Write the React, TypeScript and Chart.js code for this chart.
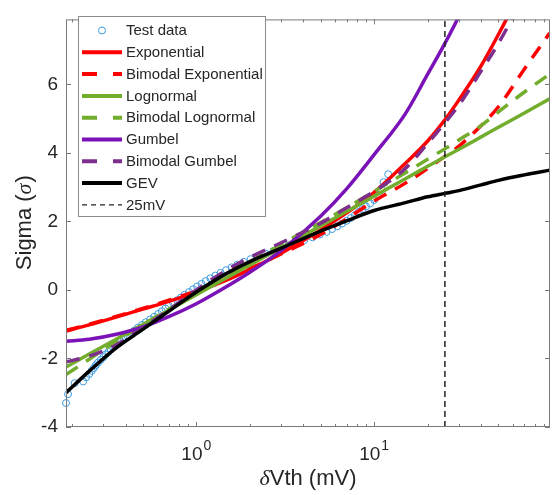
import React, { useEffect, useRef } from 'react';
import { Chart, registerables } from 'chart.js';

Chart.register(...registerables);

// ---- data ----
const fitX = [0.185, 0.25, 0.35, 0.5, 0.7, 1, 1.5, 2, 3, 5, 7, 10, 15, 20, 25, 30, 40, 50, 70, 97];

const exponentialY = [-1.2, -1.02, -0.8, -0.56, -0.33, -0.06, 0.3, 0.6, 1.07, 1.75, 2.25, 2.85, 3.7, 4.35, 4.97, 5.55, 6.55, 7.46, 8.92, null];
const bimodalExponentialY = [-1.18, -1.0, -0.78, -0.54, -0.3, -0.03, 0.32, 0.62, 1.05, 1.62, 2.08, 2.6, 3.12, 3.55, 3.9, 4.2, 4.8, 5.35, 6.45, 7.5];
const lognormalY = [-2.25, -1.87, -1.45, -1.01, -0.59, -0.14, 0.37, 0.73, 1.23, 1.87, 2.29, 2.74, 3.25, 3.61, 3.89, 4.11, 4.47, 4.75, 5.17, 5.58];
const bimodalLognormalY = [-2.47, -2.02, -1.52, -1.02, -0.56, -0.08, 0.45, 0.82, 1.33, 1.97, 2.4, 2.88, 3.42, 3.82, 4.12, 4.38, 4.8, 5.2, 5.78, 6.3];
const gumbelY = [-1.5, -1.44, -1.3, -1.08, -0.78, -0.4, 0.12, 0.52, 1.15, 2.15, 2.95, 3.95, 5.15, 6.3, 7.2, 8.0, 9.5, null, null, null];
const bimodalGumbelY = [-2.1, -1.93, -1.62, -1.1, -0.58, 0.0, 0.6, 0.95, 1.38, 1.95, 2.4, 2.88, 3.55, 4.28, 4.88, 5.4, 6.4, 7.2, 8.6, null];
const gevY = [-3.0, -2.37, -1.71, -1.15, -0.62, -0.06, 0.5, 0.83, 1.22, 1.72, 2.02, 2.32, 2.55, 2.72, 2.82, 2.9, 3.07, 3.2, 3.36, 3.5];

const testX = [0.185, 0.19, 0.207, 0.231, 0.24, 0.25, 0.258, 0.265, 0.272, 0.28, 0.29, 0.3, 0.31, 0.32, 0.33, 0.345, 0.36, 0.375, 0.39, 0.41, 0.43, 0.45, 0.47, 0.495, 0.52, 0.55, 0.58, 0.61, 0.64, 0.67, 0.7, 0.74, 0.78, 0.82, 0.86, 0.91, 0.96, 1.01, 1.07, 1.13, 1.2, 1.28, 1.37, 1.47, 1.58, 1.7, 1.85, 2.02, 2.22, 2.45, 2.72, 3.0, 3.3, 3.65, 4.05, 4.5, 4.95, 5.4, 5.8, 6.2, 6.6, 7.0, 7.4, 7.8, 8.2, 8.6, 9.0, 9.5, 10.0, 10.5, 11.0, 11.3, 12.0];
const testY = [-3.3, -3.04, -2.72, -2.67, -2.55, -2.45, -2.36, -2.28, -2.2, -2.12, -2.04, -1.96, -1.88, -1.81, -1.74, -1.66, -1.58, -1.5, -1.42, -1.34, -1.26, -1.18, -1.1, -1.02, -0.94, -0.86, -0.78, -0.7, -0.62, -0.54, -0.46, -0.38, -0.3, -0.22, -0.14, -0.06, 0.02, 0.1, 0.18, 0.26, 0.34, 0.42, 0.5, 0.58, 0.66, 0.74, 0.82, 0.9, 0.98, 1.06, 1.14, 1.22, 1.3, 1.38, 1.46, 1.54, 1.62, 1.7, 1.78, 1.86, 1.94, 2.02, 2.1, 2.19, 2.28, 2.36, 2.44, 2.53, 2.63, 2.75, 2.92, 3.15, 3.38];

const markerX = 25; // 25mV
const xMin = 0.185;
const xMax = 97.5;
const yMin = -4;
const yMax = 7.9;
const yTicks = [-4, -2, 0, 2, 4, 6];
const xLabelValues = [1, 10];
const xLabelExponents = ['0', '1'];

const legendLabels = ['Test data', 'Exponential', 'Bimodal Exponential', 'Lognormal', 'Bimodal Lognormal', 'Gumbel', 'Bimodal Gumbel', 'GEV', '25mV'];

// ---- styles ----
const BLUE = '#3d9be0';
const RED = '#ff0000';
const GREEN = '#72ad2e';
const PURPLE = '#7a12b8';
const PURPLE_D = '#7e2f8e';
const DASH = [14, 10];
const FONT = '"Liberation Sans", Arial, Helvetica, sans-serif';
const TEXT = '#262626';
const AXIS = '#7a7a7a';

type Fit = { label: string; y: (number | null)[]; color: string; dash: number[] };
const fits: Fit[] = [
  { label: legendLabels[1], y: exponentialY, color: RED, dash: [] },
  { label: legendLabels[2], y: bimodalExponentialY, color: RED, dash: DASH },
  { label: legendLabels[3], y: lognormalY, color: GREEN, dash: [] },
  { label: legendLabels[4], y: bimodalLognormalY, color: GREEN, dash: DASH },
  { label: legendLabels[5], y: gumbelY, color: PURPLE, dash: [] },
  { label: legendLabels[6], y: bimodalGumbelY, color: PURPLE_D, dash: DASH },
  { label: legendLabels[7], y: gevY, color: '#000000', dash: [] },
];

const decorPlugin = {
  id: 'decor',
  afterDatasetsDraw(chart: any) {
    const ctx: CanvasRenderingContext2D = chart.ctx;
    const { left, right, top, bottom } = chart.chartArea;
    const xs = chart.scales.x;
    const ys = chart.scales.y;
    ctx.save();
    // box
    ctx.strokeStyle = AXIS;
    ctx.lineWidth = 1;
    ctx.setLineDash([]);
    ctx.strokeRect(left + 0.5, top + 0.5, right - left - 1, bottom - top - 1);
    // y ticks (inward, both sides)
    ctx.beginPath();
    for (const v of yTicks) {
      const py = Math.round(ys.getPixelForValue(v)) + 0.5;
      ctx.moveTo(left, py); ctx.lineTo(left + 5, py);
      ctx.moveTo(right, py); ctx.lineTo(right - 5, py);
    }
    // x ticks
    for (const d of [0.1, 1, 10]) {
      for (let m = 1; m <= 9; m++) {
        const v = d * m;
        if (v < xMin || v > xMax) continue;
        const px = Math.round(xs.getPixelForValue(v)) + 0.5;
        const len = m === 1 ? 5 : 3;
        ctx.moveTo(px, bottom); ctx.lineTo(px, bottom - len);
        ctx.moveTo(px, top); ctx.lineTo(px, top + len);
      }
    }
    ctx.stroke();

    // legend
    const bx = 78, by = 16, bw = 187, bh = 200;
    ctx.fillStyle = '#ffffff';
    ctx.fillRect(bx, by, bw, bh);
    ctx.strokeStyle = '#8a8a8a';
    ctx.strokeRect(bx + 0.5, by + 0.5, bw, bh);
    ctx.font = `15px ${FONT}`;
    ctx.textBaseline = 'middle';
    ctx.textAlign = 'left';
    const rowY = (i: number) => 30.5 + i * 21.8;
    for (let i = 0; i < legendLabels.length; i++) {
      const yy = rowY(i);
      if (i === 0) {
        ctx.beginPath();
        ctx.setLineDash([]);
        ctx.strokeStyle = BLUE;
        ctx.lineWidth = 1;
        ctx.arc(102, yy, 3.5, 0, Math.PI * 2);
        ctx.stroke();
      } else if (i === legendLabels.length - 1) {
        ctx.beginPath();
        ctx.setLineDash([5, 4]);
        ctx.strokeStyle = '#222';
        ctx.lineWidth = 1.3;
        ctx.moveTo(82, yy); ctx.lineTo(122, yy);
        ctx.stroke();
      } else {
        const f = fits[i - 1];
        ctx.beginPath();
        ctx.setLineDash(f.dash.length ? [15, 16] : []);
        ctx.strokeStyle = f.color;
        ctx.lineWidth = 4;
        ctx.lineCap = 'butt';
        ctx.moveTo(82, yy); ctx.lineTo(122, yy);
        ctx.stroke();
      }
      ctx.setLineDash([]);
      ctx.fillStyle = TEXT;
      ctx.fillText(legendLabels[i], 126, yy + 0.5);
    }
    ctx.restore();
  },
  afterDraw(chart: any) {
    const ctx: CanvasRenderingContext2D = chart.ctx;
    const xs = chart.scales.x;
    const { left, right, top, bottom } = chart.chartArea;
    ctx.save();
    ctx.fillStyle = TEXT;
    ctx.textBaseline = 'alphabetic';
    ctx.textAlign = 'left';
    // x tick labels 10^n
    for (let i = 0; i < xLabelValues.length; i++) {
      const px = xs.getPixelForValue(xLabelValues[i]);
      ctx.font = `19px ${FONT}`;
      const w1 = ctx.measureText('10').width;
      ctx.font = `14px ${FONT}`;
      const w2 = ctx.measureText(xLabelExponents[i]).width;
      const sx = px - (w1 + 1 + w2) / 2;
      ctx.font = `19px ${FONT}`;
      ctx.fillText('10', sx, 460);
      ctx.font = `14px ${FONT}`;
      ctx.fillText(xLabelExponents[i], sx + w1 + 1, 450);
    }
    // x title
    ctx.textBaseline = 'middle';
    const cx = (left + right) / 2;
    const greekFont = `italic 22px "Liberation Serif", "DejaVu Serif", serif`;
    const mainFont = `22px ${FONT}`;
    ctx.font = greekFont;
    const wd = ctx.measureText('δ').width;
    ctx.font = mainFont;
    const wr = ctx.measureText('Vth (mV)').width;
    let sx = cx - (wd + wr) / 2;
    ctx.font = greekFont;
    ctx.fillText('δ', sx, 479);
    ctx.font = mainFont;
    ctx.fillText('Vth (mV)', sx + wd, 479);
    // y title
    ctx.translate(25, (top + bottom) / 2);
    ctx.rotate(-Math.PI / 2);
    ctx.font = mainFont;
    const a = ctx.measureText('Sigma (').width;
    ctx.font = greekFont;
    const b = ctx.measureText('σ').width;
    ctx.font = mainFont;
    const c = ctx.measureText(')').width;
    sx = -(a + b + c) / 2;
    ctx.fillText('Sigma (', sx, 0);
    ctx.font = greekFont;
    ctx.fillText('σ', sx + a, 0);
    ctx.font = mainFont;
    ctx.fillText(')', sx + a + b + 1, 0);
    ctx.restore();
  },
};

export default function App() {
  const ref = useRef<HTMLCanvasElement | null>(null);
  useEffect(() => {
    document.body.style.margin = '0';
    const canvas = ref.current;
    if (!canvas) return;
    const datasets: any[] = [];
    datasets.push({
      label: legendLabels[0],
      data: testX.map((x, i) => ({ x, y: testY[i] })),
      showLine: false,
      pointRadius: 3.5,
      pointStyle: 'circle',
      pointBorderColor: BLUE,
      pointBackgroundColor: 'rgba(0,0,0,0)',
      pointBorderWidth: 1,
      borderColor: BLUE,
      clip: false,
      order: 100,
    });
    fits.forEach((f, k) => {
      datasets.push({
        label: f.label,
        data: fitX.map((x, i) => ({ x, y: f.y[i] })),
        borderColor: f.color,
        borderWidth: 3.5,
        borderDash: f.dash,
        borderCapStyle: 'butt',
        pointRadius: 0,
        cubicInterpolationMode: 'monotone',
        fill: false,
        spanGaps: false,
        order: 99 - k,
      });
    });
    datasets.push({
      label: legendLabels[8],
      data: [{ x: markerX, y: yMin }, { x: markerX, y: yMax }],
      borderColor: '#222222',
      borderWidth: 1.5,
      borderDash: [6, 4],
      pointRadius: 0,
      fill: false,
      order: 50,
    });

    const chart = new Chart(canvas, {
      type: 'line',
      data: { datasets },
      options: {
        animation: false,
        responsive: false,
        maintainAspectRatio: false,
        events: [],
        layout: { padding: { left: 0, right: 2, top: 8, bottom: 0 } },
        plugins: { legend: { display: false }, tooltip: { enabled: false }, title: { display: false } },
        scales: {
          x: {
            type: 'logarithmic',
            min: xMin,
            max: xMax,
            grid: { display: false, drawTicks: false, tickLength: 0 },
            border: { display: false },
            ticks: { display: false },
            afterFit: (s: any) => { s.height = 68; },
          },
          y: {
            type: 'linear',
            min: yMin,
            max: yMax,
            grid: { display: false, drawTicks: false, tickLength: 0 },
            border: { display: false },
            ticks: {
              stepSize: 2,
              includeBounds: false,
              padding: 8,
              color: TEXT,
              font: { family: FONT, size: 19 },
              callback: (v: any) => (yTicks.includes(Number(v)) ? String(v) : ''),
            },
            afterFit: (s: any) => { s.width = 66; },
          },
        },
      },
      plugins: [decorPlugin],
    });
    return () => chart.destroy();
  }, []);
  return (
    <div style={{ width: 555, height: 495, background: '#fff' }}>
      <canvas ref={ref} width={555} height={495} />
    </div>
  );
}
